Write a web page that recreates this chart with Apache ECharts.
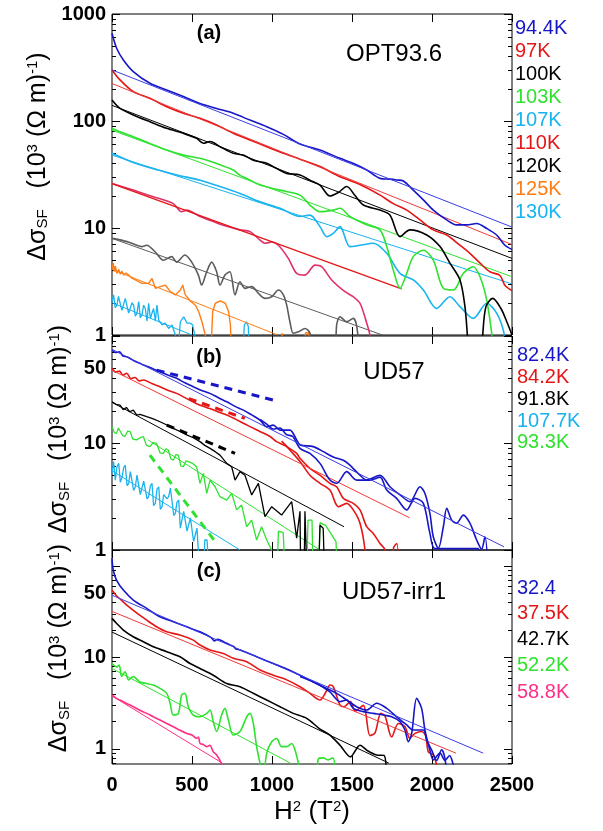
<!DOCTYPE html>
<html>
<head>
<meta charset="utf-8">
<script src="https://cdn.jsdelivr.net/npm/echarts@6/dist/echarts.min.js"></script>
<style>
  html, body { margin: 0; padding: 0; background: #fff; }
  #main { width: 603px; height: 831px; }
</style>
</head>
<body>
<div id="main"></div>
<script>
// ---- panel (a) OPT93.6 : [H^2, delta sigma] ----
const a944 = [[0,660],[29,478],[71,371],[133,289],[237,225],[342,195],[446,169],[550,146],[654,131],[758,118],[862,102],[967,88.5],[1071,75],[1175,61],[1300,53.6],[1425,44.8],[1510,40],[1592,34.8],[1675,29.1],[1735,28.6],[1779,28.1],[1821,27.5],[1883,22.6],[1946,18.3],[2008,14.7],[2092,11.9],[2154,10.7],[2217,10.7],[2279,11],[2342,9.9],[2404,8.6],[2456,6.9],[2500,6.3]];
const a944Fit = [[0,300],[2500,10.2]];
const a97 = [[0,300],[50,242],[133,188],[237,163],[342,136],[446,118],[550,106],[654,91.8],[758,76.7],[862,66.4],[967,57.5],[1071,49.9],[1175,44],[1300,37.5],[1425,30.1],[1550,25.5],[1675,20.3],[1758,16.9],[1842,14.7],[1925,11.9],[2008,9.6],[2092,8.6],[2175,6.9],[2237,5.8],[2300,4.7],[2362,3.9],[2425,3.6],[2456,2.9],[2500,2.6]];
const a97Fit = [[0,224],[2500,7]];
const a100 = [[0,157],[50,131],[133,114],[237,98.5],[342,85.4],[446,76.7],[529,68.9],[571,62],[613,64.3],[675,57.5],[758,49.9],[821,48],[883,43],[967,40.2],[1029,36],[1092,32.4],[1175,31.3],[1237,28],[1300,25.2],[1362,19.9],[1415,21.5],[1467,24.4],[1520,20],[1571,16.4],[1675,14.7],[1737,13.2],[1800,8.3],[1862,9.6],[1967,8.6],[2050,6.7],[2112,4.7],[2175,3.27],[2206,1.84],[2221,1.0],[2240,0.4],[2300,0.4],[2317,1.0],[2337,1.84],[2379,2.2],[2431,1.77],[2470,1.3],[2500,1.0]];
const a100Fit = [[0,140],[2500,5.2]];
const a103 = [[0,85.5],[50,79.3],[133,71.2],[237,61.7],[342,53.6],[446,48],[550,44.8],[654,40.1],[758,34.8],[800,31],[842,29.1],[925,25.2],[1050,22.6],[1175,20.3],[1237,16.4],[1300,14.2],[1383,14.7],[1425,15.3],[1487,12.8],[1592,10.7],[1675,9.6],[1717,6.7],[1758,4.05],[1800,2.73],[1842,3.77],[1883,5.4],[1946,6.2],[2008,5.0],[2071,2.73],[2133,2.63],[2196,3.77],[2258,4.35],[2300,3.5],[2342,2.12],[2373,1.04],[2390,0.6]];
const a103Fit = [[0,82],[2500,3.5]];
const a107 = [[0,50],[133,41],[290,34.8],[406,31.3],[550,28],[675,24.4],[800,21],[925,17.6],[1050,15.3],[1175,12.8],[1237,13.2],[1300,10.3],[1342,8.3],[1383,8.9],[1425,10.3],[1487,6.7],[1550,6.9],[1633,7.2],[1717,5.8],[1800,3.77],[1883,3.27],[1946,2.63],[2029,1.77],[2112,2.28],[2175,1.84],[2258,1.43],[2342,1.98],[2404,1.6],[2450,1.04],[2465,0.6]];
const a107Fit = [[0,48],[2500,3.0]];
const a110 = [[0,26.1],[133,22.6],[258,19.6],[383,16.9],[435,14.2],[467,14.7],[550,12.8],[633,11.5],[685,10.7],[800,9.6],[863,9.25],[925,7.7],[956,7.2],[998,7.4],[1040,6.9],[1102,5.2],[1154,3.77],[1206,3.63],[1269,4.5],[1310,4.35],[1373,3.27],[1456,2.54],[1508,2.28],[1550,1.98],[1592,1.29],[1612,1.0],[1625,0.6]];
const a110Fit = [[0,26],[1810,2.7]];
const a120 = [[0,8.0],[60,7.7],[123,7.2],[185,6.7],[217,6.9],[269,6.0],[321,5.0],[373,5.4],[404,4.8],[456,5.6],[498,4.8],[540,3.63],[560,2.93],[592,3.9],[623,4.8],[654,3.9],[675,2.93],[706,3.63],[737,3.9],[769,2.37],[800,3.15],[831,2.73],[873,2.83],[915,2.45],[956,2.2],[998,2.28],[1040,2.63],[1071,2.37],[1092,1.9],[1112,1.33],[1133,1.04],[1165,1.07],[1206,1.15],[1237,1.04],[1258,0.5],[1390,0.5],[1404,1.24],[1425,1.48],[1467,1.33],[1508,1.43],[1530,1.2],[1555,0.5]];
const a120Fit = [[0,8.0],[1690,1.0]];
const a125 = [[0,4.2],[8,4.7],[15,3.9],[21,4.4],[30,3.77],[42,4.1],[52,3.7],[62,3.95],[73,3.63],[88,3.8],[104,3.63],[125,3.4],[146,3.27],[187,3.04],[229,3.04],[250,3.38],[271,2.73],[302,2.83],[333,2.93],[365,2.54],[396,2.37],[427,2.63],[442,2.93],[458,2.37],[490,2.08],[521,1.9],[542,1.65],[562,1.33],[583,1.0],[594,0.5],[615,0.5],[629,1.65],[646,1.98],[677,2.08],[708,1.98],[729,1.65],[740,1.24],[750,0.5],[1052,0.5],[1063,1.04],[1073,1.07],[1083,0.5],[1198,0.5],[1210,1.05],[1230,1.05],[1240,0.5]];
const a125Fit = [[0,4.1],[1035,1.0]];
const a130 = [[0,2.05],[10,2.37],[20,1.8],[31,1.9],[40,2.3],[52,2.28],[62,1.7],[73,1.77],[83,2.2],[94,2.12],[104,1.6],[115,1.65],[125,2.0],[135,1.9],[146,1.5],[156,1.6],[167,2.05],[177,1.45],[187,1.54],[198,1.9],[208,1.77],[219,1.35],[229,1.98],[240,1.43],[250,1.6],[260,1.77],[271,1.35],[281,1.9],[292,1.38],[313,1.24],[333,1.29],[354,1.15],[375,1.24],[396,1.0],[406,0.5],[412,0.5],[427,1.33],[448,1.48],[469,1.29],[490,1.29],[504,1.24],[517,1.0],[525,0.5],[815,0.5],[827,1.24],[840,1.33],[852,1.2],[860,0.5]];
const a130Fit = [[0,2.0],[500,1.0]];

// ---- panel (b) UD57 ----
const b824 = [[0,74],[23,70],[46,71],[69,65],[92,64],[118,61],[144,58],[170,56],[196,53.6],[222,52],[248,50],[274,48],[300,46.4],[352,43],[404,40.2],[456,36.5],[508,33.6],[560,31],[612,29.1],[665,26.5],[717,24.3],[769,22],[821,20.3],[873,18.3],[925,16.4],[967,14.2],[1008,14.7],[1050,13.2],[1112,13.2],[1154,10.7],[1175,9.6],[1258,9.25],[1321,8.3],[1383,7.4],[1446,6.9],[1487,6.2],[1550,5.0],[1592,4.5],[1675,5.0],[1737,3.9],[1800,3.27],[1862,2.83],[1925,3.9],[1956,3.38],[1987,2.2],[2008,1.33],[2040,1.04],[2071,1.65],[2092,2.45],[2123,1.9],[2154,1.78],[2196,2.12],[2237,1.78],[2279,1.24],[2310,1.02],[2331,1.33],[2352,0.6]];
const b824b = [[925,16.6],[967,15],[1008,13.5],[1050,13.8],[1090,12],[1130,11.5],[1175,8.9],[1237,8.0],[1300,6.45],[1362,4.5],[1404,4.2],[1467,5.4],[1529,4.5],[1612,4.5],[1675,4.8],[1717,3.63],[1779,3.04],[1842,2.37],[1894,3.04],[1946,2.73],[1987,1.43],[2019,1.03],[2150,1.03],[2290,1.03],[2300,0.6]];
const b824Fit = [[0,75],[2450,1.07]];
const b824Dash = [[279,48],[1008,25.2]];
const b842 = [[0,49.9],[23,46],[46,47],[69,43],[92,44.8],[118,40],[144,41],[170,38],[196,38.8],[248,36],[300,33.6],[352,31],[404,29.1],[467,26],[529,23.3],[570,22],[612,21],[665,19.5],[717,18.3],[769,16.8],[821,15.3],[873,14],[925,12.8],[988,11.5],[1029,10.3],[1092,9.25],[1154,8.0],[1175,7.2],[1237,5.8],[1300,5.0],[1362,4.2],[1404,3.9],[1446,3.04],[1508,2.73],[1550,2.37],[1592,1.65],[1633,1.43],[1675,1.15],[1706,1.0],[1715,0.5],[1745,0.5],[1760,1.05],[1780,1.15],[1795,0.5]];
const b842b = [[1060,10.4],[1100,9.0],[1175,6.7],[1237,5.0],[1300,4.2],[1362,3.63],[1415,2.54],[1467,2.73],[1508,2.37],[1550,1.78],[1581,1.0],[1590,0.5]];
const b842Fit = [[0,48],[1860,2.0]];
const b842Dash = [[480,26],[830,17]];
const b918 = [[0,24.3],[25,23],[50,22.6],[70,20.5],[90,21.5],[110,19.6],[133,20.3],[155,18.2],[175,18.5],[217,17.6],[258,16.8],[300,15.8],[340,14.8],[383,13.7],[425,12.8],[467,11.9],[508,11.2],[550,10.3],[580,9.5],[613,8.9],[645,8.3],[675,7.7],[717,6.45],[748,6.0],[769,4.5],[800,5.4],[831,5.0],[873,3.27],[915,4.2],[956,2.05],[998,2.54],[1060,2.12],[1123,2.83],[1154,1.29],[1175,2.3],[1180,0.5],[1200,0.5],[1206,2.3],[1215,2.3],[1220,0.5],[1290,0.5],[1300,1.7],[1320,1.6],[1330,0.5]];
const b918Fit = [[0,24],[1450,1.65]];
const b918Dash = [[342,14.7],[769,8.0]];
const b933 = [[0,14.2],[15,12.5],[29,12.3],[40,13.8],[50,13.7],[65,11.8],[81,11.5],[97,12.9],[113,12.8],[130,10.9],[154,10.7],[175,11.2],[196,11.5],[215,9.5],[237,9.25],[258,10.1],[279,9.9],[300,8.1],[321,8.0],[337,8.8],[352,8.6],[368,7.1],[383,6.9],[400,7.8],[415,7.7],[430,6.1],[446,6.0],[462,6.8],[477,6.7],[500,6.5],[529,6.0],[550,4.2],[571,5.2],[592,3.38],[613,4.5],[644,3.9],[675,3.15],[717,2.93],[748,3.38],[779,2.37],[810,2.63],[842,1.65],[873,1.9],[904,1.24],[935,1.65],[967,1.24],[998,1.0],[1005,0.5],[1030,0.5],[1040,1.5],[1070,1.45],[1085,0.5],[1215,0.5],[1225,1.9],[1250,1.9],[1258,0.5],[1290,0.5],[1300,1.8],[1335,1.7],[1400,1.2],[1410,0.5]];
const b933Fit = [[225,10.7],[1300,1.0]];
const b933Dash = [[237,7.7],[654,1.15]];
const b1077 = [[0,5.2],[10,6.7],[21,4.5],[31,6.0],[42,6.45],[52,4.3],[63,4.8],[73,5.9],[83,6.2],[94,4.0],[104,4.2],[115,5.4],[125,5.6],[135,3.6],[146,3.9],[156,5.0],[167,5.2],[177,3.3],[188,3.38],[198,4.4],[208,4.5],[219,3.0],[229,3.15],[240,4.0],[250,4.2],[260,2.6],[271,2.73],[281,3.7],[292,3.9],[302,2.4],[313,2.54],[323,3.3],[333,3.38],[344,3.0],[354,3.15],[365,3.8],[375,3.9],[386,2.1],[396,2.2],[406,2.8],[417,2.93],[427,1.6],[438,1.65],[448,2.3],[458,2.37],[469,1.5],[479,1.54],[490,2.0],[500,2.05],[510,1.2],[521,1.24],[531,1.6],[542,1.65],[552,0.5],[570,0.5],[580,1.24],[594,1.24],[610,0.5]];
const b1077Fit = [[0,5.5],[800,1.0]];

// ---- panel (c) UD57-irr1 ----
const c324 = [[0,121],[8,90],[29,70],[71,54.7],[133,42.5],[217,34.5],[300,27.9],[383,24.6],[467,21.7],[550,19.1],[620,16.5],[640,15.2],[660,15.8],[717,14.3],[760,13.2],[775,12.4],[800,12.1],[904,10.2],[1008,8.6],[1092,7.5],[1175,6.4],[1258,5.4],[1342,4.6],[1404,4.06],[1467,3.43],[1529,2.9],[1592,2.67],[1654,3.16],[1717,2.78],[1779,2.25],[1842,1.83],[1883,1.61],[1946,1.61],[1967,1.25],[1998,0.97],[2029,0.75],[2060,0.98],[2081,0.79],[2092,0.5]];
const c324b = [[1175,6.2],[1279,5.2],[1362,4.2],[1425,3.29],[1467,3.43],[1508,2.78],[1571,2.56],[1633,2.45],[1696,2.35],[1748,2.25],[1800,1.99],[1831,1.61],[1852,1.2],[1873,1.48],[1904,3.58],[1935,2.78],[1956,1.61],[1987,0.97],[2008,0.76],[2050,0.9],[2081,0.75],[2110,0.85],[2130,0.7],[2150,0.5]];
const c324Fit = [[0,48],[2320,0.9]];
const c375 = [[0,54.7],[25,48],[58,42.5],[104,36],[158,30.4],[217,25.7],[279,21.7],[342,19.1],[425,17.6],[508,15.5],[550,13.7],[613,12.1],[696,11.1],[758,9.8],[842,9.0],[925,7.3],[1008,6.4],[1092,5.7],[1175,4.8],[1237,4.06],[1300,3.43],[1340,4.3],[1362,5.0],[1383,4.8],[1425,3.02],[1450,2.9],[1490,3.3],[1520,2.6],[1571,3.0],[1612,1.4],[1644,1.5],[1680,2.45],[1706,2.3],[1748,1.35],[1790,1.9],[1831,1.75],[1862,1.31],[1894,1.48],[1935,1.55],[1960,1.4],[1977,0.93],[2008,0.86],[2029,0.67],[2040,0.5]];
const c375Fit = [[0,32],[2150,0.9]];
const c427 = [[0,26.8],[29,23.6],[71,20],[133,16.9],[196,14.9],[258,13.1],[342,11.6],[425,10.2],[488,8.6],[550,7.6],[633,6.4],[717,5.2],[800,4.8],[883,4.06],[967,3.43],[1050,2.9],[1133,2.45],[1217,2.16],[1300,1.65],[1362,1.42],[1425,1.1],[1490,0.82],[1550,1.1],[1600,0.95],[1654,0.86],[1700,0.85],[1715,0.5]];
const c427Fit = [[0,19],[1730,0.7]];
const c522 = [[0,8.6],[29,7.9],[45,8.3],[60,6.2],[81,7.0],[104,5.7],[133,6.2],[175,5.4],[217,5.2],[258,5.0],[300,4.6],[342,4.06],[363,3.16],[383,2.35],[415,2.45],[435,3.9],[456,4.06],[477,2.9],[508,2.35],[550,2.25],[592,2.45],[613,2.67],[633,1.99],[654,1.55],[685,2.35],[706,2.78],[727,2.07],[758,1.42],[800,1.55],[842,2.25],[863,2.45],[883,1.91],[904,1.06],[925,0.7],[946,0.5],[967,0.9],[998,1.2],[1029,1.3],[1060,1.06],[1092,1.06],[1123,1.15],[1144,0.97],[1165,0.7],[1180,0.5],[1270,0.5],[1290,0.78],[1320,0.8],[1350,0.76],[1380,0.8],[1400,0.5]];
const c522Fit = [[0,7.6],[1115,0.7]];
const c588 = [[0,3.9],[25,3.6],[50,3.43],[92,3.15],[133,2.9],[175,2.65],[217,2.45],[258,2.25],[300,2.07],[342,1.9],[383,1.75],[425,1.6],[467,1.48],[500,1.42],[529,1.31],[540,1.35],[550,1.15],[570,1.12],[592,1.06],[612,1.1],[633,0.93],[654,0.86],[683,0.7],[700,0.5]];
const c588Fit = [[0,3.8],[690,0.7]];

// ---- texts ----
const aTemps = ['94.4K','97K','100K','103K','107K','110K','120K','125K','130K'];
const bTemps = ['82.4K','84.2K','91.8K','107.7K','93.3K'];
const cTemps = ['32.4','37.5K','42.7K','52.2K','58.8K'];
const sampleNames = ['OPT93.6','UD57','UD57-irr1'];
const panelTags = ['(a)','(b)','(c)'];

const BLUE='#1616c8', BLUEF='#3c3ce8', RED='#e41616', REDF='#f03a3a', BLACK='#000000',
      GREEN='#2fe22f', LBLUE='#19b3ef', CRIM='#e0306a', GRAY='#5c5c5c', ORANGE='#ff7d14', PINK='#ff2e86';
const aColors = [BLUE, RED, BLACK, GREEN, LBLUE, RED, BLACK, ORANGE, LBLUE];
const bColors = [BLUE, RED, BLACK, LBLUE, GREEN];
const cColors = [BLUE, RED, BLACK, GREEN, PINK];
const FONT = "'Liberation Sans', Arial, sans-serif";

const chart = echarts.init(document.getElementById('main'));

const ranges = [
  {min: 1, max: 1000, labels: [0, 1, 2, 3]},
  {min: 1, max: 100, labels: [0, 1, Math.log10(50)]},
  {min: 0.685, max: 150, labels: [0, 1, Math.log10(50)]}
];
const grids = [
  {left: 112, top: 14, width: 400, height: 321},
  {left: 112, top: 336, width: 400, height: 214},
  {left: 112, top: 550, width: 400, height: 214}
];
// shift of each y title towards the top (pixels doubled, see padding)
const nameShift = [36, 28, 18];

function decades(min, max) {
  const maj = [], mnr = [];
  for (let d = -1; d <= 3; d++) {
    const p = Math.pow(10, d);
    if (p >= min * 0.9999 && p <= max * 1.0001) maj.push(d);
    for (let m = 2; m <= 9; m++) {
      const v = m * p;
      if (v >= min && v <= max) mnr.push(Math.log10(v));
    }
  }
  return {maj, mnr};
}

const yName = '{t|Δσ}{sub|SF}{t|   (10}{sup|3}{t| (Ω m)}{sup|-1}{t|)}';
function yNameStyle(shift) {
  return {
    fontFamily: FONT, color: '#000', padding: [0, 0, 0, shift],
    rich: {
      t: {fontSize: 25, lineHeight: 25, fontFamily: FONT, verticalAlign: 'middle'},
      sub: {fontSize: 15, lineHeight: 15, fontFamily: FONT, verticalAlign: 'bottom'},
      sup: {fontSize: 15, lineHeight: 15, fontFamily: FONT, verticalAlign: 'top'}
    },
    lineHeight: 38
  };
}

const xAxis = [], yAxis = [];
grids.forEach((g, i) => {
  const isLast = i === 2;
  ['bottom', 'top'].forEach(pos => {
    xAxis.push({
      type: 'value', gridIndex: i, position: pos, min: 0, max: 2500, interval: 500,
      axisLine: {show: false, onZero: false},
      splitLine: {show: false},
      axisTick: {show: true, inside: true, length: 8, lineStyle: {color: '#000', width: 1}},
      axisLabel: {show: isLast && pos === 'bottom', fontSize: 20, fontWeight: 'bold', color: '#000',
                  fontFamily: FONT, margin: 11, formatter: v => String(v)},
      name: isLast && pos === 'bottom' ? '{t|H}{sup|2}{t| (T}{sup|2}{t|)}' : '',
      nameLocation: 'middle', nameGap: 35,
      nameTextStyle: {
        color: '#000', fontFamily: FONT,
        rich: {
          t: {fontSize: 26, lineHeight: 26, fontFamily: FONT, verticalAlign: 'bottom'},
          sup: {fontSize: 15, lineHeight: 15, fontFamily: FONT, verticalAlign: 'top'}
        },
        lineHeight: 34
      }
    });
  });
  const r = ranges[i];
  const lmin = Math.log10(r.min), lmax = Math.log10(r.max);
  const dk = decades(r.min, r.max);
  // data axis (log), hidden – every series is drawn on it
  yAxis.push({type: 'log', gridIndex: i, position: 'left', min: r.min, max: r.max, show: false});
  ['left', 'right'].forEach(side => {
    yAxis.push({
      type: 'value', gridIndex: i, position: side, min: lmin, max: lmax,
      axisLine: {show: false, onZero: false}, splitLine: {show: false},
      axisTick: {show: true, inside: true, length: 8, customValues: dk.maj, lineStyle: {color: '#000', width: 1}},
      axisLabel: {
        show: side === 'left', customValues: r.labels, margin: 6,
        fontSize: 20, fontWeight: 'bold', color: '#000', fontFamily: FONT,
        formatter: v => String(Math.round(Math.pow(10, v)))
      },
      name: side === 'left' ? yName : '',
      nameLocation: 'middle', nameRotate: 90, nameGap: 40,
      nameTextStyle: yNameStyle(nameShift[i])
    });
    yAxis.push({
      type: 'value', gridIndex: i, position: side, min: lmin, max: lmax,
      axisLine: {show: false, onZero: false}, splitLine: {show: false},
      axisTick: {show: true, inside: true, length: 4, customValues: dk.mnr, lineStyle: {color: '#000', width: 1}},
      axisLabel: {show: false}
    });
  });
});

function line(data, g, color, width, smooth, dash) {
  return {
    type: 'line', data: data, xAxisIndex: g * 2, yAxisIndex: g * 5,
    symbol: 'none', silent: true, animation: false, clip: true,
    smooth: smooth || false,
    lineStyle: {color: color, width: width, type: dash ? [8, 6] : 'solid', cap: 'butt'},
    itemStyle: {color: color}
  };
}
const D = 1.6, F = 1.0, S = 0.3;
const series = [
  // (a)
  line(a130, 0, LBLUE, 1.3), line(a130Fit, 0, LBLUE, F),
  line(a125, 0, ORANGE, 1.4), line(a125Fit, 0, ORANGE, F),
  line(a120, 0, GRAY, D, S), line(a120Fit, 0, GRAY, F),
  line(a110, 0, CRIM, D, S), line(a110Fit, 0, RED, 1.3),
  line(a107, 0, LBLUE, D, S), line(a107Fit, 0, LBLUE, F),
  line(a103, 0, GREEN, D, S), line(a103Fit, 0, GREEN, F),
  line(a100, 0, BLACK, D, S), line(a100Fit, 0, BLACK, F),
  line(a97, 0, RED, D, S), line(a97Fit, 0, REDF, F),
  line(a944, 0, BLUE, D, S), line(a944Fit, 0, BLUEF, F),
  // (b)
  line(b1077, 1, LBLUE, 1.3), line(b1077Fit, 1, LBLUE, F),
  line(b933, 1, GREEN, 1.3), line(b933Fit, 1, GREEN, F), line(b933Dash, 1, GREEN, 3, false, true),
  line(b918, 1, BLACK, 1.3), line(b918Fit, 1, BLACK, F), line(b918Dash, 1, BLACK, 3, false, true),
  line(b842, 1, RED, D, S), line(b842b, 1, RED, D, S), line(b842Fit, 1, REDF, F), line(b842Dash, 1, RED, 3, false, true),
  line(b824, 1, BLUE, D, S), line(b824b, 1, BLUE, D, S), line(b824Fit, 1, BLUEF, F), line(b824Dash, 1, BLUE, 3, false, true),
  // (c)
  line(c588, 2, PINK, D, S), line(c588Fit, 2, PINK, F),
  line(c522, 2, GREEN, D, S), line(c522Fit, 2, GREEN, F),
  line(c427, 2, BLACK, D, S), line(c427Fit, 2, BLACK, F),
  line(c375, 2, RED, D, S), line(c375Fit, 2, REDF, F),
  line(c324, 2, BLUE, D, S), line(c324b, 2, BLUE, D, S), line(c324Fit, 2, BLUEF, F)
];

const graphic = [];
function tempLabels(list, colors, x, ys) {
  list.forEach((t, k) => graphic.push({
    type: 'text', x: x, y: ys[k], silent: true,
    style: {text: t, fill: colors[k], fontSize: 20, fontFamily: FONT,
            textAlign: 'left', align: 'left', textVerticalAlign: 'middle', verticalAlign: 'middle'}
  }));
}
tempLabels(aTemps, aColors, 515, aTemps.map((_, k) => 28 + 23.1 * k));
tempLabels(bTemps, bColors, 517, [355, 377, 399, 421, 442]);
tempLabels(cTemps, cColors, 517, [588, 613, 639, 665, 692]);
const tagY = [33, 357, 571], nameY = [54, 372, 592];
panelTags.forEach((t, k) => {
  graphic.push({type: 'text', x: 209, y: tagY[k], silent: true,
    style: {text: t, fill: '#000', fontSize: 20, fontWeight: 'bold', fontFamily: FONT,
            textAlign: 'center', align: 'center', textVerticalAlign: 'middle', verticalAlign: 'middle'}});
  graphic.push({type: 'text', x: 394, y: nameY[k], silent: true,
    style: {text: sampleNames[k], fill: '#000', fontSize: 24, fontFamily: FONT,
            textAlign: 'center', align: 'center', textVerticalAlign: 'middle', verticalAlign: 'middle'}});
});

chart.setOption({
  animation: false,
  backgroundColor: '#fff',
  grid: grids.map(g => Object.assign({show: true, borderColor: '#000', borderWidth: 1, backgroundColor: 'transparent', containLabel: false}, g)),
  xAxis: xAxis,
  yAxis: yAxis,
  series: series,
  graphic: graphic
});
</script>
</body>
</html>
